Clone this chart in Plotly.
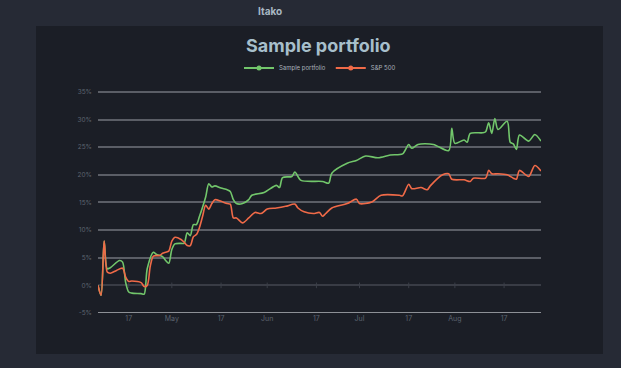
import plotly.graph_objects as go

# ---------------- data ----------------
portfolio_dates = [
    "2023-04-07", "2023-04-08", "2023-04-09", "2023-04-10", "2023-04-11", "2023-04-14",
    "2023-04-15", "2023-04-16", "2023-04-17", "2023-04-18", "2023-04-21", "2023-04-22",
    "2023-04-23", "2023-04-25", "2023-04-26", "2023-04-28", "2023-04-29", "2023-04-30",
    "2023-05-01", "2023-05-02", "2023-05-04", "2023-05-05", "2023-05-06", "2023-05-07",
    "2023-05-08", "2023-05-09", "2023-05-10", "2023-05-12", "2023-05-13", "2023-05-14",
    "2023-05-15", "2023-05-17", "2023-05-19", "2023-05-20", "2023-05-21", "2023-05-22",
    "2023-05-24", "2023-05-26", "2023-05-27", "2023-05-31", "2023-06-04", "2023-06-05",
    "2023-06-06", "2023-06-09", "2023-06-10", "2023-06-12", "2023-06-19", "2023-06-21",
    "2023-06-22", "2023-06-27", "2023-06-30", "2023-07-03", "2023-07-07", "2023-07-11",
    "2023-07-15", "2023-07-17", "2023-07-18", "2023-07-20", "2023-07-25", "2023-07-30",
    "2023-07-31", "2023-08-01", "2023-08-04", "2023-08-05", "2023-08-06", "2023-08-10",
    "2023-08-11", "2023-08-12", "2023-08-13", "2023-08-14", "2023-08-15", "2023-08-18",
    "2023-08-19", "2023-08-20", "2023-08-21", "2023-08-22", "2023-08-25", "2023-08-27",
    "2023-08-29",
]
portfolio_values = [
    0.0, -1.8, 8.0, 3.0, 3.2, 4.5,
    4.2, 0.5, -1.2, -1.4, -1.5, -1.6,
    3.0, 6.0, 5.6, 5.2, 4.5, 4.0,
    6.5, 7.5, 7.6, 7.6, 9.5, 9.0,
    11.0, 11.0, 12.5, 16.0, 18.4, 17.8,
    18.0, 17.6, 17.3, 17.0, 15.5, 14.8,
    14.8, 15.5, 16.3, 16.8, 18.1, 17.7,
    19.5, 19.7, 20.5, 19.0, 18.8, 18.5,
    20.3, 22.1, 22.6, 23.4, 23.1, 23.6,
    23.8, 25.5, 24.8, 25.5, 25.5, 24.4,
    28.4, 25.7, 26.3, 25.9, 27.5, 27.6,
    27.8, 29.4, 27.5, 30.2, 28.2, 29.7,
    25.9, 25.6, 24.6, 27.2, 26.1, 27.3,
    26.1,
]

sp500_dates = [
    "2023-04-07", "2023-04-08", "2023-04-09", "2023-04-10", "2023-04-11", "2023-04-13",
    "2023-04-15", "2023-04-16", "2023-04-17", "2023-04-18", "2023-04-21", "2023-04-22",
    "2023-04-23", "2023-04-24", "2023-04-25", "2023-04-27", "2023-04-28", "2023-04-29",
    "2023-04-30", "2023-05-01", "2023-05-02", "2023-05-04", "2023-05-05", "2023-05-06",
    "2023-05-07", "2023-05-08", "2023-05-09", "2023-05-10", "2023-05-11", "2023-05-12",
    "2023-05-13", "2023-05-14", "2023-05-15", "2023-05-17", "2023-05-19", "2023-05-20",
    "2023-05-21", "2023-05-22", "2023-05-24", "2023-05-26", "2023-05-28", "2023-05-30",
    "2023-06-01", "2023-06-04", "2023-06-07", "2023-06-10", "2023-06-11", "2023-06-13",
    "2023-06-16", "2023-06-18", "2023-06-19", "2023-06-20", "2023-06-22", "2023-06-27",
    "2023-06-30", "2023-07-01", "2023-07-05", "2023-07-08", "2023-07-14", "2023-07-15",
    "2023-07-17", "2023-07-18", "2023-07-21", "2023-07-23", "2023-07-24", "2023-07-28",
    "2023-07-30", "2023-07-31", "2023-08-04", "2023-08-06", "2023-08-07", "2023-08-11",
    "2023-08-12", "2023-08-13", "2023-08-15", "2023-08-18", "2023-08-20", "2023-08-21",
    "2023-08-22", "2023-08-25", "2023-08-27", "2023-08-29",
]
sp500_values = [
    0.0, -1.8, 8.0, 2.4, 2.2, 2.7,
    3.1, 1.5, 0.7, 0.8, 0.5, -0.2,
    0.0, 3.5, 5.3, 5.4, 5.8, 6.0,
    6.2, 8.0, 8.7, 8.3, 7.8, 7.2,
    7.2, 8.8, 9.2, 10.5, 12.5, 14.5,
    13.8, 14.8, 15.5, 15.2, 14.8, 14.7,
    12.2, 12.2, 11.3, 12.2, 13.2, 13.0,
    13.8, 14.0, 14.3, 14.7, 14.0, 13.3,
    13.0, 13.2, 12.5, 13.0, 14.0, 14.8,
    15.6, 14.8, 15.1, 16.3, 16.3, 16.2,
    18.3, 17.5, 17.7, 17.3, 18.0, 20.0,
    20.2, 19.2, 19.1, 18.8, 19.4, 19.4,
    20.8, 20.2, 20.2, 20.0, 19.4, 19.2,
    20.8, 19.7, 21.7, 20.7,
]

x_tick_dates = ["2023-04-17", "2023-05-01", "2023-05-17", "2023-06-01", "2023-06-17",
                "2023-07-01", "2023-07-17", "2023-08-01", "2023-08-17"]
x_tick_labels = ["17", "May", "17", "Jun", "17", "Jul", "17", "Aug", "17"]
y_tick_values = [-5, 0, 5, 10, 15, 20, 25, 30, 35]
y_tick_labels = ["-5%", "0%", "5%", "10%", "15%", "20%", "25%", "30%", "35%"]

series_names = ["Sample portfolio", "S&P 500"]
series_colors = ["#72c66b", "#f06a48"]

# ---------------- figure ----------------
W, H = 621, 368
L, R, T, B = 98, 80, 90, 55
pw, ph = W - L - R, H - T - B


def px_x(p):
    return (p - L) / pw


def px_y(p):
    return (H - B - p) / ph


fig = go.Figure()

fig.add_trace(go.Scatter(
    x=portfolio_dates, y=portfolio_values, mode="lines",
    line=dict(color=series_colors[0], width=1.6, shape="spline", smoothing=0.8),
    showlegend=False, hoverinfo="skip",
))
fig.add_trace(go.Scatter(
    x=sp500_dates, y=sp500_values, mode="lines",
    line=dict(color=series_colors[1], width=1.6, shape="spline", smoothing=0.8),
    showlegend=False, hoverinfo="skip",
))
# small tick marks on the zero line
fig.add_trace(go.Scatter(
    x=x_tick_dates, y=[0] * len(x_tick_dates), mode="markers",
    marker=dict(symbol="line-ns", size=4, line=dict(color="#3b3f48", width=1)),
    showlegend=False, hoverinfo="skip",
))
# legend entries
for name, col in zip(series_names, series_colors):
    fig.add_trace(go.Scatter(
        x=[None], y=[None], mode="lines+markers", name=name,
        line=dict(color=col, width=2), marker=dict(color=col, size=5),
    ))

fig.update_layout(
    width=W, height=H,
    margin=dict(l=L, r=R, t=T, b=B, pad=0),
    paper_bgcolor="#262a35",
    plot_bgcolor="rgba(0,0,0,0)",
    font=dict(family="Inter, Roboto, sans-serif", color="#5d6470", size=7),
    showlegend=True,
    legend=dict(
        orientation="h", x=px_x(320), y=px_y(68), xanchor="center", yanchor="middle",
        font=dict(size=6, color="#aab2bb"), bgcolor="rgba(0,0,0,0)",
        itemwidth=30, tracegroupgap=0,
    ),
    xaxis=dict(
        type="date",
        range=["2023-04-07", "2023-08-29"],
        tickmode="array", tickvals=x_tick_dates, ticktext=x_tick_labels,
        showgrid=False, zeroline=False,
        showline=False, ticks="", ticklen=0,
        tickfont=dict(size=7, color="#5d6470"),
    ),
    yaxis=dict(
        range=[-5, 35.35],
        tickmode="array", tickvals=y_tick_values, ticktext=y_tick_labels,
        showgrid=True, gridcolor="#5b5e66", gridwidth=1.5,
        zeroline=True, zerolinecolor="#393c45", zerolinewidth=1.5,
        showline=False, ticks="", ticklabelstandoff=5,
        tickfont=dict(size=6.5, color="#5d6470"),
    ),
    shapes=[
        dict(type="rect", xref="paper", yref="paper",
             x0=px_x(36), x1=px_x(603), y0=px_y(354), y1=px_y(26),
             fillcolor="#1b1e26", line=dict(width=0), layer="below"),
        dict(type="line", xref="paper", yref="y",
             x0=0, x1=1, y0=-5, y1=-5,
             line=dict(color="#b4b7bd", width=1.5), layer="below"),
    ],
    annotations=[
        dict(text="<b>Itako</b>", xref="paper", yref="paper",
             x=px_x(270), y=px_y(11), xanchor="center", yanchor="middle",
             showarrow=False, font=dict(size=10, color="#a9b8c4", family="Inter, sans-serif")),
        dict(text="<b>Sample portfolio</b>", xref="paper", yref="paper",
             x=px_x(318), y=px_y(45), xanchor="center", yanchor="middle",
             showarrow=False, font=dict(size=18, color="#a7bfcb", family="Inter, sans-serif")),
    ],
)

fig.write_html(
    "out.html",
    config={"displayModeBar": False},
    post_script="document.body.style.margin='0';document.body.style.background='#262a35';",
)
